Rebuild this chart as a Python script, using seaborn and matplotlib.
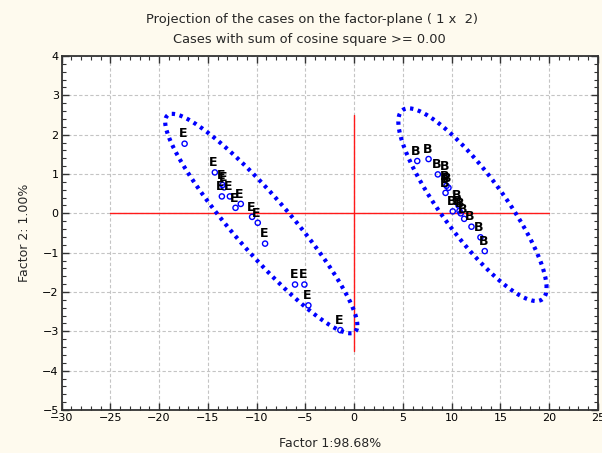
import numpy as np
import pandas as pd
import matplotlib
matplotlib.use("Agg")
import matplotlib.pyplot as plt
from matplotlib.ticker import AutoMinorLocator
import seaborn as sns

# ---- data ----
e_x = [-17.38, -14.28, -13.49, -13.33, -13.56, -12.74, -12.16, -11.62, -10.46, -9.88, -9.13, -6.06, -5.10, -4.69, -1.41]
e_y = [1.77, 1.04, 0.72, 0.66, 0.43, 0.43, 0.14, 0.24, -0.09, -0.24, -0.77, -1.81, -1.81, -2.34, -2.97]
b_x = [6.47, 7.63, 8.58, 9.37, 9.47, 9.67, 9.37, 10.70, 10.80, 10.11, 10.93, 11.28, 12.03, 12.95, 13.39]
b_y = [1.33, 1.38, 0.99, 0.95, 0.70, 0.65, 0.52, 0.20, 0.06, 0.05, 0.00, -0.14, -0.34, -0.61, -0.96]

# ellipses: centre, half x-range, half y-range, cos of phase (tilt)
ell_cx = [-9.52, 12.13]
ell_cy = [-0.26, 0.22]
ell_ax = [9.85, 7.60]
ell_by = [2.79, 2.45]
ell_cos = [-0.926, -0.861]

# reference axes (red lines)
hline_x = [-25, 20]
vline_y = [-3.5, 2.5]

x_ticks = [-30, -25, -20, -15, -10, -5, 0, 5, 10, 15, 20, 25]
y_ticks = [-5, -4, -3, -2, -1, 0, 1, 2, 3, 4]

df = pd.DataFrame({
    "f1": e_x + b_x,
    "f2": e_y + b_y,
    "label": ["E"] * len(e_x) + ["B"] * len(b_x),
})

# ---- figure ----
sns.set_theme(style="white")
plt.rcParams["font.family"] = ["DejaVu Sans"]

bg = "#fefaee"
fig = plt.figure(figsize=(6.02, 4.53), dpi=100, facecolor=bg)
ax = fig.add_axes([61.5 / 602, 1 - 410 / 453, (598 - 61.5) / 602, (410 - 56) / 453])
ax.set_facecolor("white")

ax.set_xlim(-30, 25)
ax.set_ylim(-5, 4)
ax.set_xticks(x_ticks)
ax.set_yticks(y_ticks)
ax.xaxis.set_minor_locator(AutoMinorLocator(5))
ax.yaxis.set_minor_locator(AutoMinorLocator(5))
ax.grid(True, which="major", color="#c4c4c4", linestyle=(0, (3, 2)), linewidth=0.8)
ax.set_axisbelow(True)

# red reference lines
ax.plot(hline_x, [0, 0], color="#ff1a1a", lw=1.0, zorder=2)
ax.plot([0, 0], vline_y, color="#ff1a1a", lw=1.0, zorder=2)

# ellipses
t = np.linspace(0, 2 * np.pi, 400)
for cx, cy, a, b, c in zip(ell_cx, ell_cy, ell_ax, ell_by, ell_cos):
    d = np.arccos(c)
    ax.plot(cx + a * np.cos(t), cy + b * np.cos(t - d), color="#0000ff",
            lw=3.0, linestyle=(0, (0.8, 1.1)), zorder=3)

# points
sns.scatterplot(data=df, x="f1", y="f2", ax=ax, marker="o", s=14,
                facecolor="none", edgecolor="#0000ff", linewidth=1.0,
                legend=False, zorder=4)
for xi, yi, lab in zip(df["f1"], df["f2"], df["label"]):
    ax.annotate(lab, (xi, yi), xytext=(-1, 7), textcoords="offset points",
                ha="center", va="center", fontsize=9, fontweight="bold",
                color="black", zorder=5)

# spines & ticks
for s in ax.spines.values():
    s.set_color("#333333")
    s.set_linewidth(1.3)
ax.tick_params(which="both", direction="in", top=True, right=True,
               bottom=True, left=True, colors="#333333", labelcolor="black")
ax.tick_params(which="major", length=5, width=1.0, labelsize=8, pad=2)
ax.tick_params(which="minor", length=3, width=0.8)
ax.set_xticklabels([str(v).replace("-", "\u2212") for v in x_ticks])
ax.set_yticklabels([str(v).replace("-", "\u2212") for v in y_ticks])

ax.set_xlabel("Factor 1:98.68%", fontsize=9, labelpad=10)
ax.set_ylabel("Factor 2: 1.00%", fontsize=9, labelpad=8)

fig.text(312 / 602, 1 - 20 / 453, "Projection of the cases on the factor-plane ( 1 x  2)",
         ha="center", va="center", fontsize=9.4)
fig.text(309 / 602, 1 - 40 / 453, "Cases with sum of cosine square >= 0.00",
         ha="center", va="center", fontsize=9.4)

fig.savefig("out.png", dpi=100, facecolor=bg)
